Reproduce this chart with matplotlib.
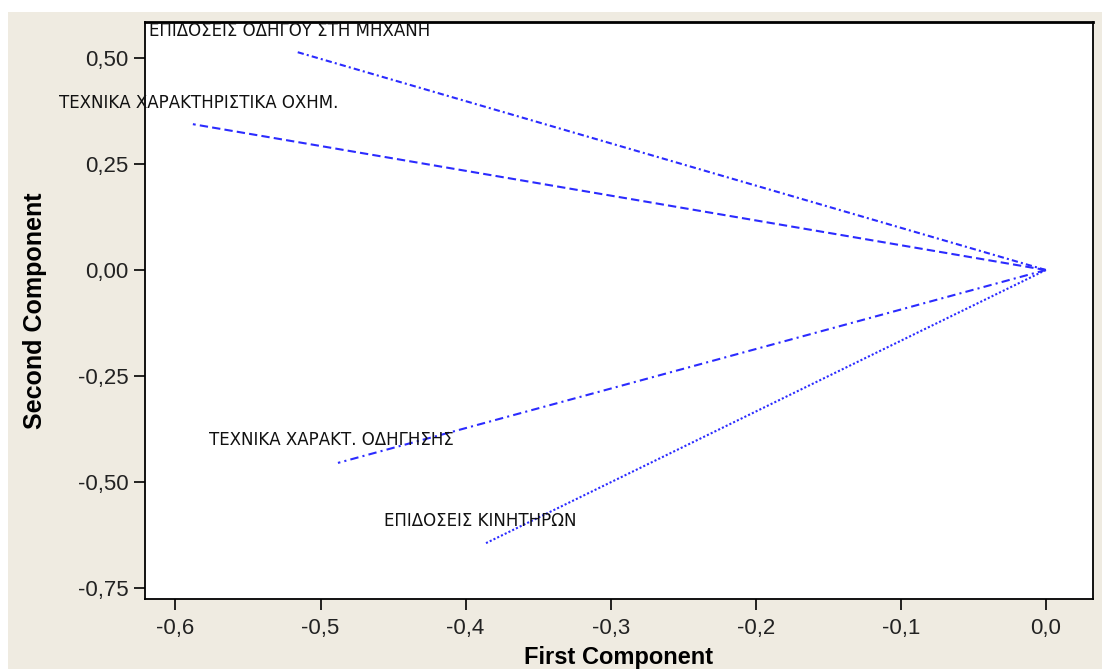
import matplotlib
matplotlib.use("Agg")
import matplotlib.pyplot as plt
from matplotlib.patches import Rectangle
from matplotlib.ticker import FuncFormatter

labels = ["ΕΠΙΔΟΣΕΙΣ ΟΔΗΓΟΥ ΣΤΗ ΜΗΧΑΝΗ", "ΤΕΧΝΙΚΑ ΧΑΡΑΚΤΗΡΙΣΤΙΚΑ ΟΧΗΜ.",
          "ΤΕΧΝΙΚΑ ΧΑΡΑΚΤ. ΟΔΗΓΗΣΗΣ", "ΕΠΙΔΟΣΕΙΣ ΚΙΝΗΤΗΡΩΝ"]
pc1 = [-0.516, -0.588, -0.488, -0.387]
pc2 = [0.514, 0.344, -0.455, -0.646]
label_x = [-0.618, -0.680, -0.577, -0.456]
label_y = [0.564, 0.394, -0.401, -0.592]
styles = [(0, (3, 1.5, 1, 1.5)), (0, (4, 2)), (0, (4, 2, 1, 2)), (0, (1, 1))]
xticks = [-0.6, -0.5, -0.4, -0.3, -0.2, -0.1, 0.0]
yticks = [0.50, 0.25, 0.00, -0.25, -0.50, -0.75]

sans = "Liberation Sans"
bg = "#EFEBE1"
fig = plt.figure(figsize=(11.02, 6.69), dpi=100, facecolor=bg)
fig.patches.append(Rectangle((0, 1 - 12 / 669), 1, 12 / 669, transform=fig.transFigure,
                             facecolor="white", edgecolor="none", zorder=0))
fig.patches.append(Rectangle((0, 0), 8 / 1102, 1, transform=fig.transFigure,
                             facecolor="white", edgecolor="none", zorder=0))
ax = fig.add_axes([145 / 1102, 1 - 599 / 669, 948 / 1102, 577 / 669])
ax.set_facecolor("white")

for x, y, ls in zip(pc1, pc2, styles):
    ax.plot([0, x], [0, y], color="#2b2bff", lw=1.5, linestyle=ls)

for t, x, y in zip(labels, label_x, label_y):
    ax.text(x, y, t, fontsize=12, va="center", ha="left", family="DejaVu Sans",
            color="#111111", clip_on=False)

ax.set_xlim(-0.621, 0.0325)
ax.set_ylim(-0.776, 0.585)
ax.set_xticks(xticks)
ax.set_yticks(yticks)
ax.xaxis.set_major_formatter(FuncFormatter(lambda v, p: f"{v:.1f}".replace(".", ",").replace("-0,0", "0,0")))
ax.yaxis.set_major_formatter(FuncFormatter(lambda v, p: f"{v:.2f}".replace(".", ",").replace("-0,00", "0,00")))
ax.tick_params(labelsize=16, length=8, width=1.2, color="black", labelcolor="#222222")
ax.tick_params(axis="x", pad=6)
ax.tick_params(axis="y", pad=4)
for lab in ax.get_xticklabels() + ax.get_yticklabels():
    lab.set_family(sans)
for s in ax.spines.values():
    s.set_color("black")
    s.set_linewidth(1.3)
ax.spines["top"].set_linewidth(2)
ax.set_xlabel("First Component", fontsize=17, fontweight="bold", family=sans, labelpad=5)
ax.set_ylabel("Second Component", fontsize=18, fontweight="bold", family=sans, labelpad=22)

fig.savefig("out.png", dpi=100, facecolor=bg)
